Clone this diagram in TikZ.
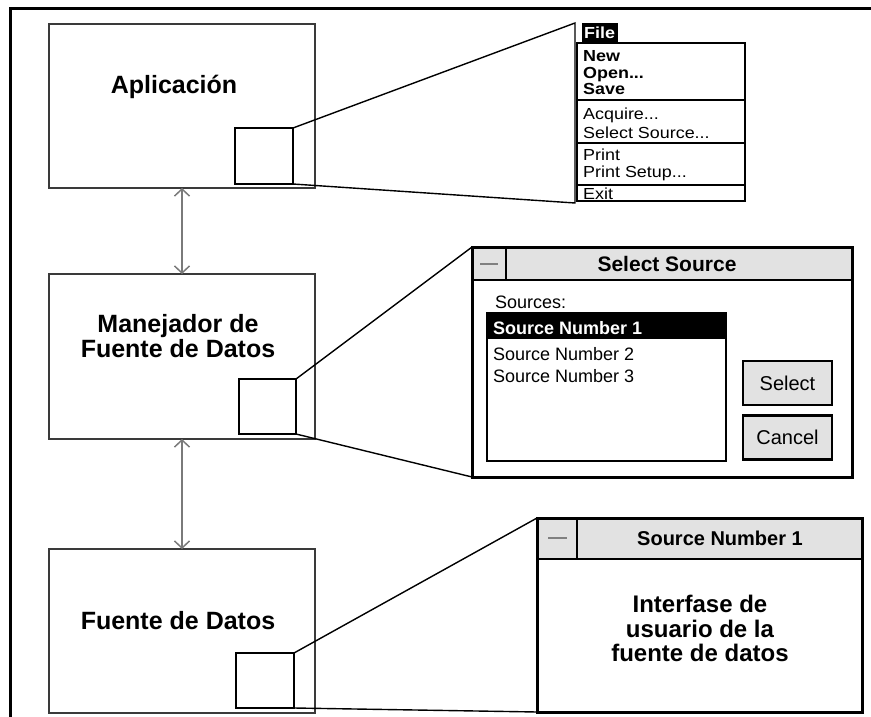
\documentclass[tikz,border=0pt]{standalone}
\usepackage{fontspec}
\setmainfont{Liberation Sans}
\newfontfamily\menufont[FakeStretch=1.12]{Liberation Sans}
\usetikzlibrary{arrows.meta}
\definecolor{boxgray}{HTML}{3A3A3A}
\definecolor{arrgray}{HTML}{7A7A7A}
\definecolor{bargray}{HTML}{E2E2E2}
\newcommand\fsz[1]{\fontsize{#1}{#1}\selectfont}
\tikzset{
  box/.style={draw=boxgray, line width=2pt, inner sep=0, outer sep=0, minimum width=266pt},
  sq/.style={draw=black, line width=1.5pt, inner sep=0, outer sep=0},
  persp/.style={draw=black, line width=1.4pt},
  arr/.style={draw=arrgray, line width=1.5pt, {Straight Barb[length=7pt,width=15pt]}-{Straight Barb[length=7pt,width=15pt]}},
  win/.style={draw=black, line width=3pt, fill=white, inner sep=0, outer sep=0},
  bigtxt/.style={font=\fsz{25}\bfseries, anchor=base, inner sep=0},
  menutxt/.style={font=\menufont\fsz{16}, anchor=base west, inner sep=0},
  menubold/.style={font=\menufont\fsz{16}\bfseries, anchor=base west, inner sep=0},
  dlgtxt/.style={font=\fsz{18}, anchor=base west, inner sep=0},
  btn/.style={draw=black, line width=2.5pt, fill=bargray, inner sep=0, minimum width=89pt, minimum height=44pt, font=\fsz{20}}
}
\begin{document}
\begin{tikzpicture}[x=1pt,y=-1pt]
\useasboundingbox (0,0) rectangle (871,717);
\fill[white] (0,0) rectangle (871,717);
% frame
\draw[line width=3pt] (10,717) -- (10,9) -- (871,9);

% main boxes
\node[box, minimum height=164pt] (app) at (182,106) {};
\node[box, minimum height=165pt] (mgr) at (182,356.5) {};
\node[box, minimum height=164pt] (src) at (182,631) {};
\node[bigtxt] (appT) at (174,94) {Aplicación};
\node[bigtxt] (mgrT1) at (178,332) {Manejador de};
\node[bigtxt] (mgrT2) at (178,357) {Fuente de Datos};
\node[bigtxt] (srcT) at (178,629) {Fuente de Datos};

% arrows
\draw[arr] (app.south) -- (mgr.north);
\draw[arr] (mgr.south) -- (src.north);

% small squares
\node[sq, minimum width=58pt, minimum height=56pt] (sq1) at (264,156) {};
\node[sq, minimum width=57pt, minimum height=55pt] (sq2) at (267.5,406.5) {};
\node[sq, minimum width=58pt, minimum height=55pt] (sq3) at (265,680.5) {};

% menu
\coordinate (m1) at (575,23);
\coordinate (m2) at (575,203);
\draw[persp] (sq1.north east) -- (m1) -- (m2) -- (sq1.south east);
\node[fill=black, inner sep=0, minimum width=36pt, minimum height=20pt] (file) at (600,33) {};
\node[font=\menufont\fsz{16}\bfseries, text=white, anchor=base west, inner sep=0] (fileT) at (584,39) {File};
\node[draw=black, line width=1.5pt, inner sep=0, outer sep=0, minimum width=168pt, minimum height=158pt] (menu) at (661,122) {};
\draw[line width=1.5pt] (577,100) -- (745,100);
\draw[line width=1.5pt] (577,143) -- (745,143);
\draw[line width=1.5pt] (577,185) -- (745,185);
\node[menubold] (mNew) at (583,62) {New};
\node[menubold] (mOpen) at (583,78) {Open...};
\node[menubold] (mSave) at (583,95) {Save};
\node[menutxt] (mAcq) at (583,120) {Acquire...};
\node[menutxt] (mSel) at (583,139) {Select Source...};
\node[menutxt] (mPrint) at (583,160) {Print};
\node[menutxt] (mSetup) at (583,177) {Print Setup...};
\node[menutxt] (mExit) at (583,199) {Exit};

% select source dialog
\node[win, minimum width=380pt, minimum height=230pt] (dlg) at (662,362) {};
\draw[persp] (sq2.north east) -- (dlg.north west);
\draw[persp] (sq2.south east) -- (dlg.south west);
\fill[bargray] (473.5,248.5) rectangle (850.5,280);
\draw[line width=2pt] (472,280) -- (852,280);
\draw[line width=2pt] (506,247) -- (506,280);
\draw[line width=2pt, gray] (480,264) -- (498,264);
\node[font=\fsz{21}\bfseries, anchor=base, inner sep=0] (dlgT) at (667,271) {Select Source};
\node[dlgtxt] (srcs) at (495,308) {Sources:};
\node[draw=black, line width=2pt, inner sep=0, outer sep=0, minimum width=239pt, minimum height=148pt] (list) at (606.5,387) {};
\fill[black] (487,313) rectangle (726,339);
\node[dlgtxt, font=\fsz{18}\bfseries, text=white] (s1) at (493,334) {Source Number 1};
\node[dlgtxt] (s2) at (493,360) {Source Number 2};
\node[dlgtxt] (s3) at (493,382) {Source Number 3};
\node[btn] (selb) at (787.5,383) {Select};
\node[btn] (canb) at (787.5,437.5) {Cancel};

% source window
\node[win, minimum width=325pt, minimum height=194pt] (win) at (699.5,615) {};
\draw[persp] (sq3.north east) -- (win.north west);
\draw[persp] (sq3.south east) -- (win.south west);
\fill[bargray] (538.5,519.5) rectangle (860.5,559);
\draw[line width=2pt] (537,559) -- (862,559);
\draw[line width=2pt] (577,518) -- (577,559);
\draw[line width=2pt, gray] (548,538) -- (567,538);
\node[font=\fsz{20}\bfseries, anchor=base, inner sep=0] (winT) at (720,545) {Source Number 1};
\node[bigtxt, font=\fsz{24}\bfseries] (w1) at (700,612) {Interfase de};
\node[bigtxt, font=\fsz{24}\bfseries] (w2) at (700,637) {usuario de la};
\node[bigtxt, font=\fsz{24}\bfseries] (w3) at (700,661) {fuente de datos};
\end{tikzpicture}
\end{document}
